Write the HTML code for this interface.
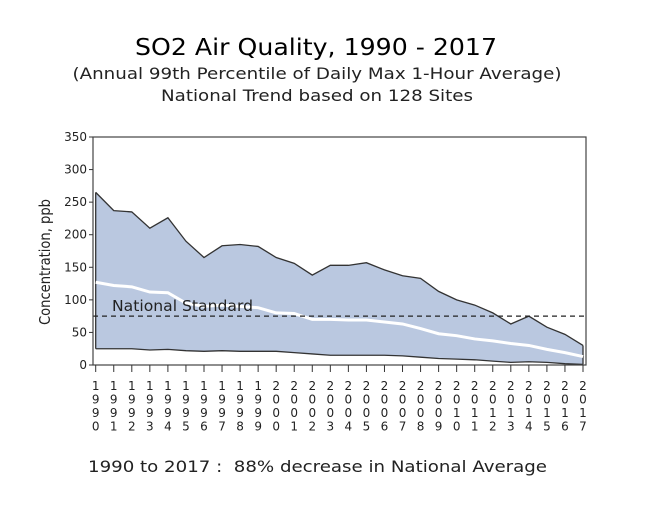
<!DOCTYPE html>
<html><head><meta charset="utf-8"><style>
body{margin:0;background:#fff;width:657px;height:511px;overflow:hidden;font-family:"DejaVu Sans",sans-serif}
</style></head><body>
<svg width="657" height="511" font-family="DejaVu Sans, sans-serif">
<text x="316" y="55" text-anchor="middle" font-size="23" textLength="362" lengthAdjust="spacingAndGlyphs" fill="#000">SO2 Air Quality, 1990 - 2017</text>
<text x="317" y="79" text-anchor="middle" font-size="16" textLength="489" lengthAdjust="spacingAndGlyphs" fill="#222">(Annual 99th Percentile of Daily Max 1-Hour Average)</text>
<text x="317" y="101" text-anchor="middle" font-size="16" textLength="312" lengthAdjust="spacingAndGlyphs" fill="#222">National Trend based on 128 Sites</text>
<text transform="translate(50,262) rotate(-90)" text-anchor="middle" font-size="15" textLength="126" lengthAdjust="spacingAndGlyphs" fill="#222">Concentration, ppb</text>
<g id="plot"></g>
<text x="88" y="472" font-size="16" textLength="459" lengthAdjust="spacingAndGlyphs" fill="#222" xml:space="preserve">1990 to 2017 :  88% decrease in National Average</text>
</svg>
<script>
const years=[1990,1991,1992,1993,1994,1995,1996,1997,1998,1999,2000,2001,2002,2003,2004,2005,2006,2007,2008,2009,2010,2011,2012,2013,2014,2015,2016,2017];
const upper=[265,237,235,210,226,190,165,183,185,182,165,156,138,153,153,157,146,137,133,113,100,92,80,63,75,58,47,30];
const mean=[127,122,120,112,111,95,90,92,90,88,80,79,70,70,69,69,66,63,56,48,45,40,37,33,30,24,19,13];
const lower=[25,25,25,23,24,22,21,22,21,21,21,19,17,15,15,15,15,14,12,10,9,8,6,4,5,4,2,1];
const yTicks=[0,50,100,150,200,250,300,350];
const standard=75;
const NS="http://www.w3.org/2000/svg";
const L=93,R=586,T=137,B=365,x0=95.7,x1=583;
const xs=i=>x0+(x1-x0)*i/(years.length-1);
const ys=v=>B-(B-T)*v/350;
const g=document.getElementById('plot');
function mk(t,a){const e=document.createElementNS(NS,t);for(const k in a)e.setAttribute(k,a[k]);g.appendChild(e);return e;}
let up=upper.map((v,i)=>xs(i)+','+ys(v));
let lo=lower.map((v,i)=>xs(i)+','+ys(v));
let band=mk('polygon',{points:up.concat(lo.slice().reverse()).join(' '),fill:'#bac8e0',stroke:'none'});


let ul=mk('polyline',{points:up.join(' '),fill:'none',stroke:'#333','stroke-width':1.3});


let ll=mk('polyline',{points:lo.join(' '),fill:'none',stroke:'#333','stroke-width':1.3});


let vl=mk('line',{x1:x0,y1:ys(upper[0]),x2:x0,y2:ys(lower[0]),stroke:'#333','stroke-width':1.3});


let vr=mk('line',{x1:x1,y1:ys(upper[upper.length-1]),x2:x1,y2:ys(lower[lower.length-1]),stroke:'#333','stroke-width':1.3});


let ml=mk('polyline',{points:mean.map((v,i)=>xs(i)+','+ys(v)).join(' '),fill:'none',stroke:'#fff','stroke-width':3});


let sl=mk('line',{x1:L,x2:R,y1:ys(standard),y2:ys(standard),stroke:'#222','stroke-width':1.2,'stroke-dasharray':'5,4'});


let st=mk('text',{x:112,y:ys(standard)-5,'font-size':15,fill:'#222',textLength:141,lengthAdjust:'spacingAndGlyphs'});st.textContent='National Standard';


let fr=mk('rect',{x:L,y:T,width:R-L,height:B-T,fill:'none',stroke:'#444','stroke-width':1.2});


yTicks.forEach(v=>{
 let t=mk('line',{x1:L-4,x2:L,y1:ys(v),y2:ys(v),stroke:'#333'});
 
 
 let tx=mk('text',{x:L-6,y:ys(v)+4,'text-anchor':'end','font-size':12,fill:'#222'});tx.textContent=v;
 
 
});
years.forEach((y,i)=>{
 let t=mk('line',{x1:xs(i),x2:xs(i),y1:B,y2:B+7,stroke:'#333'});
 
 
 String(y).split('').forEach((c,j)=>{
  let tx=mk('text',{x:xs(i),y:390+j*13.5,'text-anchor':'middle','font-size':12,fill:'#222'});tx.textContent=c;
  
  
 });
});
</script>
</body></html>
